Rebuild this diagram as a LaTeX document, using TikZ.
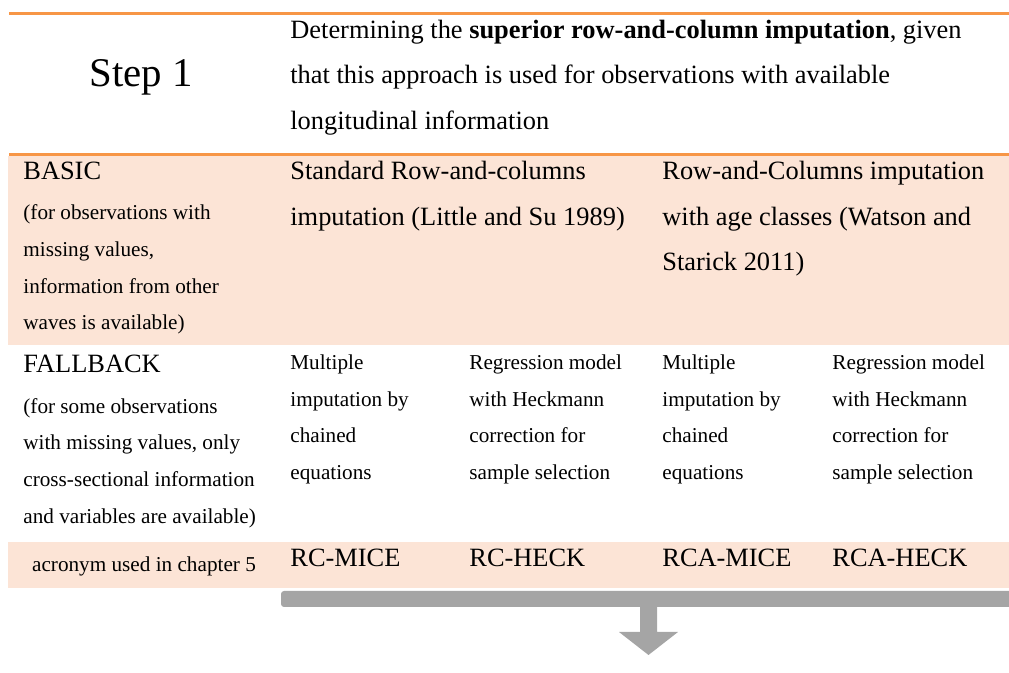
\documentclass[tikz,border=0pt]{standalone}
\usepackage{fontspec}
\setmainfont{Liberation Serif}
\usetikzlibrary{positioning}

\definecolor{orangeline}{HTML}{F79646}
\definecolor{peach}{HTML}{FCE4D6}
\definecolor{bargrey}{HTML}{A5A5A5}

\newcommand{\bigtext}{\fontsize{13.2}{22.75}\selectfont}
\newcommand{\smalltext}{\fontsize{10.6}{18.3}\selectfont}
\newcommand{\steptext}{\fontsize{20.4}{24}\selectfont}
\newcommand{\celllines}[1]{\begin{tabular}[t]{@{}l@{}}#1\end{tabular}}

\begin{document}
\begin{tikzpicture}[x=0.5pt,y=-0.5pt,
	rule/.style={draw=orangeline, line width=1.5pt},
	shade/.style={fill=peach},
	txt/.style={anchor=base west, inner sep=0pt, font=\bigtext},
	note/.style={txt, font=\smalltext}]
	\useasboundingbox (0,0) rectangle (1009,673);

	%background
	\fill[shade] (8,156) rectangle (1009,345);
	\fill[shade] (8,542) rectangle (1009,588);

	%lines
	\draw[rule] (9,13.5) -- (1009,13.5);
	\draw[rule] (9,154.5) -- (1009,154.5);

	%nodes
	\node[anchor=base, inner sep=0pt, font=\steptext] (step) at (141,87) {Step 1};
	\node[txt] (goal) at (290,38.5) {\celllines{Determining the \textbf{superior row-and-column imputation}, given\\
		that this approach is used for observations with available\\
		longitudinal information}};

	\node[txt] (basic) at (23,180) {BASIC};
	\node[note] (basicnote) at (23,220) {\celllines{(for observations with\\ missing values,\\ information from other\\ waves is available)}};
	\node[txt] (rc) at (290,180) {\celllines{Standard Row-and-columns\\ imputation (Little and Su 1989)}};
	\node[txt] (rca) at (662,180) {\celllines{Row-and-Columns imputation\\ with age classes (Watson and\\ Starick 2011)}};

	\node[txt] (fallback) at (23,373) {FALLBACK};
	\node[note] (fallbacknote) at (23,413.4) {\celllines{(for some observations\\ with missing values, only\\ cross-sectional information\\ and variables are available)}};
	\node[note] (rcmice) at (290,369.5) {\celllines{Multiple\\ imputation by\\ chained\\ equations}};
	\node[note] (rcheck) at (469,369.5) {\celllines{Regression model\\ with Heckmann\\ correction for\\ sample selection}};
	\node[note] (rcamice) at (662,369.5) {\celllines{Multiple\\ imputation by\\ chained\\ equations}};
	\node[note] (rcaheck) at (832,369.5) {\celllines{Regression model\\ with Heckmann\\ correction for\\ sample selection}};

	\node[note, anchor=base] (acronym) at (144,572) {acronym used in chapter 5};
	\node[txt] (rcmiceacr) at (290,567) {RC-MICE};
	\node[txt] (rcheckacr) at (469,567) {RC-HECK};
	\node[txt] (rcamiceacr) at (662,567) {RCA-MICE};
	\node[txt] (rcaheckacr) at (832,567) {RCA-HECK};

	%arrow
	\fill[bargrey] (1009,591) [rounded corners=1.5pt] -- (281,591) -- (281,607) [sharp corners] -- (1009,607) -- cycle;
	\fill[bargrey] (640,606) -- (657,606) -- (657,632) -- (678,632) -- (648.5,655) -- (619,632) -- (640,632) -- cycle;
\end{tikzpicture}
\end{document}
